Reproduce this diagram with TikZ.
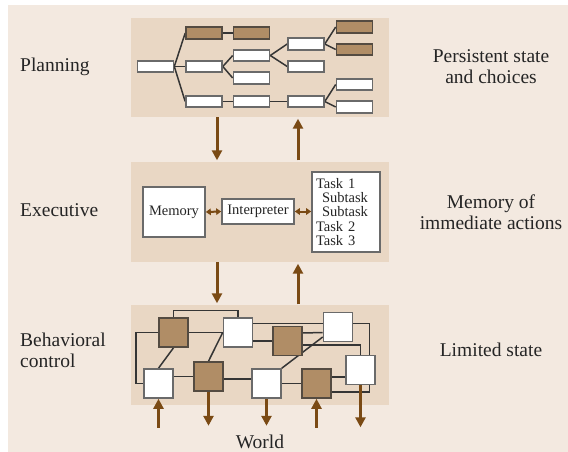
\documentclass[tikz,border=0pt]{standalone}
\usepackage{fontspec}
\setmainfont{Liberation Serif}
\usetikzlibrary{arrows.meta,calc}
\pgfdeclarelayer{bg}
\pgfdeclarelayer{wires}
\pgfsetlayers{bg,wires,main}
\definecolor{pagebg}{HTML}{F3E9E0}
\definecolor{panel}{HTML}{E9D7C4}
\definecolor{boxbrown}{HTML}{B08D66}
\definecolor{arrowbrown}{HTML}{7A4A14}
\definecolor{wire}{HTML}{353535}
\definecolor{edge}{HTML}{6A6A6A}
\definecolor{textc}{HTML}{252525}
\begin{document}
\begin{tikzpicture}[x=1pt,y=-1pt,
  panelbox/.style={fill=panel,draw=none,minimum width=258pt,minimum height=100pt,inner sep=0pt},
  pbox/.style={draw=edge,fill=white,line width=1.6pt,minimum width=36pt,minimum height=11.5pt,inner sep=0pt},
  pbrown/.style={pbox,fill=boxbrown,draw=wire!75!boxbrown},
  sq/.style={draw=edge,fill=white,line width=1.6pt,minimum size=29pt,inner sep=0pt},
  sqb/.style={sq,fill=boxbrown,draw=wire!75!boxbrown},
  wirel/.style={draw=wire,line width=1.5pt},
  bigarrow/.style={draw=arrowbrown,line width=3pt,-{Triangle[length=10pt,width=10pt]}},
  dbl/.style={draw=arrowbrown,line width=2pt,{Triangle[length=5pt,width=6.5pt]}-{Triangle[length=5pt,width=6.5pt]}},
  lbl/.style={text=textc,font=\fontsize{19.5}{21}\selectfont,inner sep=0pt},
  inner/.style={draw=edge,fill=white,line width=1.6pt,text=textc,font=\fontsize{14.5}{15}\selectfont,inner sep=0pt}
]
\useasboundingbox (0,0) rectangle (568,452);
\begin{pgfonlayer}{bg}
\fill[white] (0,0) rectangle (568,452);
\fill[pagebg] (8,5) rectangle (568,452);
\node[panelbox,minimum height=99pt] (plan) at (260,67.5) {};
\node[panelbox] (exec) at (260,212) {};
\node[panelbox] (behav) at (260,355) {};
\end{pgfonlayer}

% ---------- planning tree ----------
\node[pbox] (root) at (155.5,66.5) {};
\node[pbrown] (A) at (204,33) {};
\node[pbox] (B) at (204,66.5) {};
\node[pbox] (C) at (204,101.5) {};
\node[pbrown] (D) at (251.5,33) {};
\node[pbox] (E) at (251.5,55.5) {};
\node[pbox] (F) at (251.5,78) {};
\node[pbox] (G) at (251.5,101.5) {};
\node[pbox] (H) at (306,44) {};
\node[pbox] (I) at (306,66.5) {};
\node[pbox] (J) at (306,101.5) {};
\node[pbrown] (K) at (354.5,27) {};
\node[pbrown] (L) at (354.5,49.5) {};
\node[pbox] (M) at (354.5,84.5) {};
\node[pbox] (N) at (354.5,107) {};
\begin{pgfonlayer}{wires}
\draw[wirel] (root.east) -- (A.west);
\draw[wirel] (root.east) -- (B.west);
\draw[wirel] (root.east) -- (C.west);
\draw[wirel] (A.east) -- (D.west);
\draw[wirel] (B.east) -- (E.west);
\draw[wirel] (B.east) -- (F.west);
\draw[wirel] (E.east) -- (H.west);
\draw[wirel] (E.east) -- (I.west);
\draw[wirel] (C.east) -- (G.west);
\draw[wirel] (G.east) -- (J.west);
\draw[wirel] (H.east) -- (K.west);
\draw[wirel] (H.east) -- (L.west);
\draw[wirel] (J.east) -- (M.west);
\draw[wirel] (J.east) -- (N.west);
\end{pgfonlayer}

% ---------- executive ----------
\node[inner,minimum width=62pt,minimum height=50pt] (mem) at (174,212) {Memory};
\node[inner,minimum width=72pt,minimum height=25pt] (interp) at (258,211.5) {Interpreter};
\node[inner,minimum width=68pt,minimum height=80pt,align=left,font=\fontsize{14.5}{14.2}\selectfont,text width=60pt] (tasks) at (346,212)
  {Task 1\\\hspace*{6pt}Subtask\\\hspace*{6pt}Subtask\\Task 2\\Task 3};
\draw[dbl] (mem.east) -- (interp.west);
\draw[dbl] (interp.east) -- (tasks.west |- interp.east);

% ---------- behavioral ----------
\node[sqb] (S1) at (173.5,332.5) {};
\node[sq]  (S2) at (238,332.5) {};
\node[sqb] (S3) at (287.5,341) {};
\node[sq]  (S4) at (338,327) {};
\node[sq]  (S5) at (158.5,383.5) {};
\node[sqb] (S6) at (208.5,376.5) {};
\node[sq]  (S7) at (266.5,383.5) {};
\node[sqb] (S8) at (316.5,383.5) {};
\node[sq]  (S9) at (360.5,370) {};
\begin{pgfonlayer}{wires}
\draw[wirel] (S1.north) -- ++(0,-6.5) -| (S2.north);
\draw[wirel] (S1.west) -| ($(S5.west)+(-7,0)$) -- (S5.west);
\draw[wirel] (S1.east) -- (S2.west);
\draw[wirel] (S1.south) -- (S5.north);
\draw[wirel] (S6.north) -- (S2.west);
\draw[wirel] ($(S2.east)+(0,-9)$) -- ($(S4.west)+(0,-3.5)$);
\draw[wirel] (S3.west) -- (S3.west -| S2.east);
\draw[wirel] ($(S3.east)+(0,-8)$) -- ($(S4.west)+(0,5.5)$);
\draw[wirel] ($(S3.east)+(0,4)$) -| (S9.north);
\draw[wirel] ($(S4.west)+(0,10)$) -- (S7.north east);
\draw[wirel] (S6.west) -- (S6.west -| S5.east);
\draw[wirel] ($(S6.east)+(0,2.5)$) -- ($(S7.west)+(0,-4.5)$);
\draw[wirel] (S7.east) -- (S8.west);
\draw[wirel] ($(S8.east)+(0,-6.5)$) -- ($(S9.west)+(0,7)$);
\draw[wirel] ($(S8.east)+(0,8.5)$) -| ($(S4.east)+(16,-3.5)$) -- ($(S4.east)+(0,-3.5)$);
\end{pgfonlayer}

% ---------- world arrows ----------
\draw[bigarrow] ($(S5.south)+(0,29)$) -- (S5.south);
\draw[bigarrow] (S6.south) -- ($(S6.south)+(0,34)$);
\draw[bigarrow] (S7.south) -- ($(S7.south)+(0,27)$);
\draw[bigarrow] ($(S8.south)+(0,29)$) -- (S8.south);
\draw[bigarrow] (S9.south) -- ($(S9.south)+(0,42)$);

% ---------- panel arrows ----------
\draw[bigarrow] ($(plan.south)+(-43,0)$) -- ($(exec.north)+(-43,-1.5)$);
\draw[bigarrow] ($(exec.north)+(38,-1.5)$) -- ($(plan.south)+(38,1.5)$);
\draw[bigarrow] ($(exec.south)+(-43,0)$) -- ($(behav.north)+(-43,-1.5)$);
\draw[bigarrow] ($(behav.north)+(38,-0.5)$) -- ($(exec.south)+(38,1.5)$);

% ---------- labels ----------
\node[lbl,anchor=west] (lplan) at (20,67) {Planning};
\node[lbl,anchor=west] (lexec) at (20,210) {Executive};
\node[lbl,anchor=west,align=left] (lbeh) at (20,350) {Behavioral\\control};
\node[lbl,align=center] (rplan) at (491,67) {Persistent state\\and choices};
\node[lbl,align=center] (rexec) at (491,212) {Memory of\\immediate actions};
\node[lbl] (rbeh) at (491,350) {Limited state};
\node[lbl] (world) at (260,442) {World};
\end{tikzpicture}
\end{document}
